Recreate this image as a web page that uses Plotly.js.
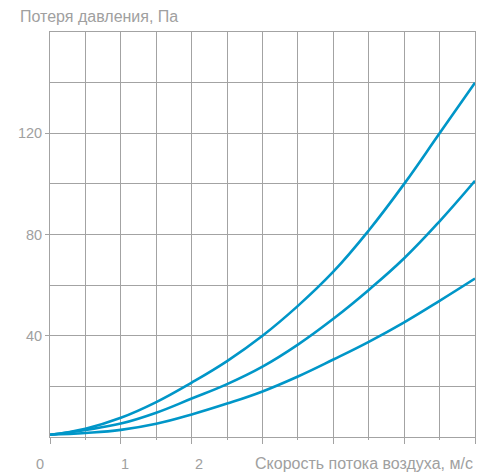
<!DOCTYPE html>
<html>
<head>
<meta charset="utf-8">
<script src="https://cdn.plot.ly/plotly-3.0.1.min.js"></script>
<style>html,body{margin:0;padding:0;background:#fff;}#chart{width:481px;height:474px;}</style>
</head>
<body>
<div id="chart"></div>
<script>
const speed = [0, 0.5, 1, 1.5, 2, 2.5, 3, 3.5, 4, 4.5, 5, 5.5, 6];
const lossHigh = [0.9, 3.3, 7.6, 13.8, 21.5, 30, 40, 51.8, 65.3, 81.6, 100, 120, 140];
const lossMid  = [0.9, 2.8, 5.3, 9.6, 15.2, 20.9, 27.8, 36.5, 46.7, 58.1, 70.6, 85.2, 101.2];
const lossLow  = [0.9, 1.6, 2.8, 5.2, 8.9, 13.2, 18, 23.9, 30.6, 37.6, 45.3, 53.8, 62.6];
const xTickVals = [0, 1, 2, 3, 4, 5, 6];
const xTickText = ['0', '1', '2'];
const yTickVals = [40, 80, 120];
const yTickText = ['40', '80', '120'];
const xTitle = 'Скорость потока воздуха, м/с';
const yTitle = 'Потеря давления, Па';

const gridCol = '#a3a3a3';
const textCol = '#a0a0a0';
const lineCol = '#0096c8';
// pixel offsets of the x tick labels, as in the source artwork
const xLabelShiftPx = [-10, 4.3, 7.4];

const traces = [lossHigh, lossMid, lossLow].map(v => ({
  x: speed, y: v, type: 'scatter', mode: 'lines',
  line: {color: lineCol, width: 2.6, shape: 'spline', smoothing: 1.2},
  hoverinfo: 'skip', showlegend: false
}));

const tickLabelAnns = xTickText.map((t, i) => ({
  text: t, xref: 'x', yref: 'paper', x: xTickVals[i], xshift: xLabelShiftPx[i], y: -0.0655,
  xanchor: 'center', yanchor: 'middle', showarrow: false,
  font: {size: 14.5, color: textCol}
}));

const layout = {
  width: 481, height: 474,
  margin: {l: 50, r: 6, t: 32, b: 37},
  paper_bgcolor: '#fff', plot_bgcolor: '#fff',
  font: {family: 'Liberation Sans, Arial, sans-serif', size: 14.5, color: textCol},
  xaxis: {
    range: [0, 6], tickmode: 'array', tickvals: xTickVals, showticklabels: false,
    ticks: 'outside', ticklen: 6, tickwidth: 1, tickcolor: gridCol,
    showgrid: true, gridcolor: gridCol, gridwidth: 1,
    minor: {dtick: 0.5, ticks: 'outside', ticklen: 2, tickcolor: gridCol, showgrid: true, gridcolor: gridCol, gridwidth: 1},
    showline: true, mirror: true, linecolor: gridCol, linewidth: 1,
    zeroline: false
  },
  yaxis: {
    range: [0, 160], tickmode: 'array', tickvals: yTickVals, ticktext: yTickText,
    ticks: 'outside', ticklen: 4, tickwidth: 1, tickcolor: gridCol,
    showgrid: true, gridcolor: gridCol, gridwidth: 1,
    minor: {dtick: 20, ticks: '', showgrid: true, gridcolor: gridCol, gridwidth: 1},
    showline: true, mirror: true, linecolor: gridCol, linewidth: 1,
    zeroline: false,
    tickfont: {size: 14.5, color: textCol}
  },
  annotations: tickLabelAnns.concat([
    {text: xTitle, xref: 'paper', yref: 'paper', x: 1.0, y: -0.0655, xanchor: 'right', yanchor: 'middle',
     showarrow: false, font: {size: 16, color: textCol}},
    {text: yTitle, xref: 'paper', yref: 'paper', x: -0.0753, y: 1.039, xanchor: 'left', yanchor: 'middle',
     showarrow: false, font: {size: 16, color: textCol}}
  ])
};

Plotly.newPlot('chart', traces, layout, {displayModeBar: false, staticPlot: true});
</script>
</body>
</html>
